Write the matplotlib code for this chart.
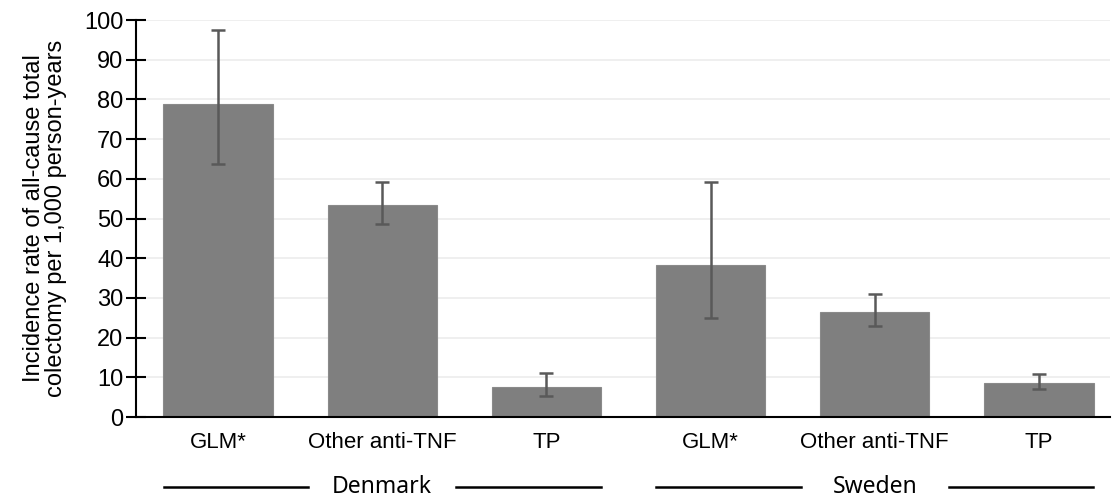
import matplotlib
matplotlib.use("Agg")
import matplotlib.pyplot as plt
import matplotlib.transforms as mtransforms

categories = ["GLM*", "Other anti-TNF", "TP", "GLM*", "Other anti-TNF", "TP"]
values = [78.8, 53.5, 7.6, 38.4, 26.4, 8.6]
err_low = [63.8, 48.6, 5.2, 25.0, 22.8, 7.1]
err_high = [97.6, 59.1, 11.1, 59.1, 30.9, 10.8]
groups = ["Denmark", "Sweden"]
group_members = [[0, 1, 2], [3, 4, 5]]
yticks = [0, 10, 20, 30, 40, 50, 60, 70, 80, 90, 100]

plt.rcParams['font.family'] = ['Liberation Sans', 'DejaVu Sans']

fig = plt.figure(figsize=(11.14, 4.99), dpi=100)
ax = fig.add_axes([0.122, 0.1643, 0.874, 0.7956])

x = list(range(len(categories)))
yerr = [[v - lo for v, lo in zip(values, err_low)],
        [hi - v for v, hi in zip(values, err_high)]]
ax.bar(x, values, width=0.665, color="#7f7f7f", edgecolor="#8a8a8a", linewidth=0.8, zorder=2)
ax.errorbar(x, values, yerr=yerr, fmt="none", ecolor="#595959", elinewidth=1.8,
            capsize=5, capthick=1.8, zorder=3)

ax.set_xlim(-0.5, 5.43)
ax.set_ylim(0, 100)
ax.set_yticks(yticks)
ax.set_xticks(x)
ax.set_xticklabels(categories, fontsize=16)
ax.tick_params(axis='x', length=0, pad=11)
ax.tick_params(axis='y', direction='inout', length=14, width=1.5, labelsize=17, pad=2)
ax.grid(axis='y', color="#ececec", linewidth=1.2, zorder=0)
ax.set_axisbelow(True)
for s in ["top", "right"]:
    ax.spines[s].set_visible(False)
ax.spines["left"].set_linewidth(1.5)
ax.spines["bottom"].set_linewidth(1.5)

ax.set_ylabel("Incidence rate of all-cause total\ncolectomy per 1,000 person-years",
              fontsize=17, labelpad=12, linespacing=1.0)

trans = mtransforms.blended_transform_factory(ax.transData, ax.transAxes)
ypos = (417 - 487) / 397.0
for g, members in zip(groups, group_members):
    lo = members[0] - 0.33
    hi = members[-1] + 0.33
    mid = (members[0] + members[-1]) / 2
    ax.text(mid, ypos, g, transform=trans, ha='center', va='center', fontsize=16.5,
            family=['Noto Sans', 'DejaVu Sans'], clip_on=False)
    ax.plot([lo, mid - 0.45], [ypos, ypos], transform=trans, color='black', lw=1.8, clip_on=False)
    ax.plot([mid + 0.45, hi], [ypos, ypos], transform=trans, color='black', lw=1.8, clip_on=False)

fig.savefig("out.png", dpi=100)
